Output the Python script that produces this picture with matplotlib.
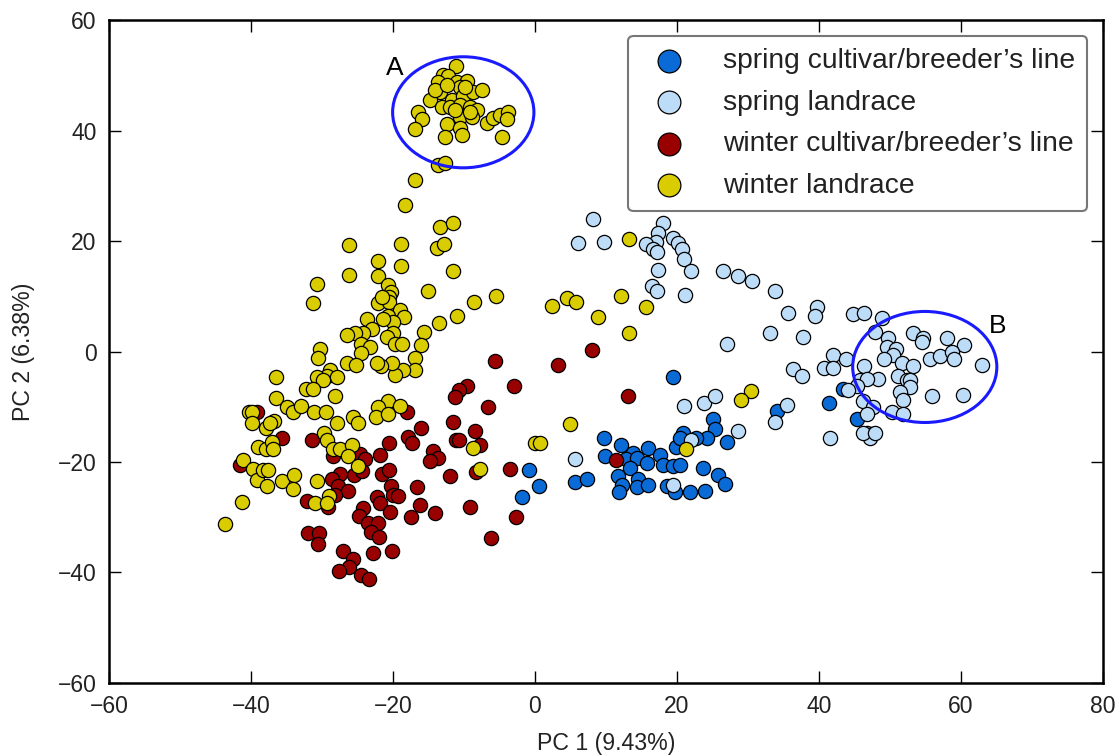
import matplotlib
matplotlib.use("Agg")
import matplotlib.pyplot as plt
from matplotlib.patches import Ellipse

plt.rcParams['font.family'] = ['Liberation Sans', 'DejaVu Sans']

# spring cultivar/breeder's line
sc_x = [19.4, 34.1, 25.1, 25.4, 27.0, 24.2, 20.8, 22.7, 19.9, 20.4, 9.7, 12.1, 13.8, 15.9, 17.6,
        9.9, 12.8, 14.4, 15.8, 13.4, 18.0, 19.4, 20.4, 23.7, 25.8, 26.8, -0.8, 0.6, -1.8, 5.6,
        7.3, 11.7, 12.3, 11.8, 14.5, 14.4, 15.9, 18.6, 19.7, 21.8, 23.9, 41.4, 45.4, 43.4]
sc_y = [-4.7, -10.7, -12.3, -14.1, -16.3, -15.6, -14.8, -15.7, -17.2, -15.6, -15.6, -17.0, -18.3, -17.4, -18.8,
        -19.0, -19.5, -19.2, -20.1, -21.0, -20.6, -20.8, -20.6, -21.0, -22.4, -23.9, -21.4, -24.3, -26.4, -23.7,
        -23.0, -22.6, -24.1, -25.5, -23.0, -24.6, -24.1, -24.4, -25.5, -25.5, -25.3, -9.4, -12.3, -6.7]

# spring landrace
sl_x = [8.2, 6.1, 9.7, 18.0, 17.3, 17.0, 15.6, 16.6, 17.2, 19.4, 20.1, 20.7, 21.0, 22.0, 17.3,
        16.5, 17.2, 21.1, 26.5, 28.6, 30.6, 33.8, 33.1, 27.0, 21.0, 23.8, 25.4, 33.8, 28.6, 22.0,
        5.6, 19.4,
        35.6, 39.7, 39.4, 37.7, 44.8, 46.3, 48.9, 47.9, 49.7, 49.6, 53.2, 54.6, 54.5, 58.0,
        60.4, 50.8, 50.4, 49.2, 55.6, 57.0, 58.7, 59.0, 63.0, 42.0, 43.8, 40.7, 42.0, 36.3,
        37.6, 46.3, 51.7, 53.2, 51.1, 52.4, 52.8, 52.8, 48.3, 45.8, 46.8, 45.4, 44.1, 51.4,
        51.8, 55.9, 60.3, 46.2, 47.6, 46.8, 50.3, 51.8, 35.5, 41.5, 46.8, 47.5, 47.2, 46.2, 47.9]
sl_y = [23.9, 19.7, 19.9, 23.3, 21.5, 19.9, 19.4, 18.5, 18.1, 20.6, 19.7, 18.5, 16.8, 14.5, 14.7,
        11.9, 11.0, 10.3, 14.5, 13.6, 12.7, 11.0, 3.3, 1.3, -9.8, -9.4, -8.1, -12.8, -14.3, -16.1,
        -19.4, -24.1,
        6.9, 8.0, 6.5, 2.7, 6.7, 6.9, 6.0, 3.6, 2.5, 0.9, 3.4, 2.5, 1.8, 2.5,
        1.1, 0.4, -0.7, -1.4, -1.4, -0.9, 0.0, -1.3, -2.4, -0.7, -1.4, -2.9, -2.9, -3.1,
        -4.5, -2.7, -2.0, -2.7, -4.5, -5.2, -5.1, -6.5, -4.9, -5.1, -4.9, -6.3, -6.9, -7.4,
        -8.7, -8.0, -7.8, -8.9, -10.0, -11.4, -11.0, -11.4, -9.6, -15.6, -14.7, -15.0, -15.7, -14.7, -14.8]

# winter cultivar/breeder's line
wc_x = [-5.6, -9.6, -10.7, -11.3, -39.2, -35.6, -18.0, -16.1, -11.5, -6.6, -8.5, -11.1, -10.7, -7.7, -8.3,
        -31.4, -28.5, -24.6, -23.9, -25.5, -24.4, -27.5, -28.6, -27.7, -26.3, -28.2, -32.1, -29.2, -21.8, -20.6,
        -17.9, -17.3, -21.5, -20.6, -14.4, -13.7, -14.8, -12.0, -16.6, -20.3, -20.0, -19.3, -22.3, -21.8, -20.4,
        -16.2, -17.5, -14.1, -24.2, -24.8, -23.5, -22.1, -23.1, -22.0, -9.2, -6.2, -32.0, -30.4, -30.6, -27.0,
        -25.6, -26.2, -27.6, -22.8, -20.1, -24.5, -23.4, -41.5, 8.0, 3.2, -3.0, 13.1, -3.5, 11.4, -2.7]
wc_y = [-1.8, -6.2, -6.9, -8.3, -10.9, -15.6, -10.9, -13.8, -12.7, -10.1, -14.3, -16.1, -16.1, -17.0, -21.9,
        -16.1, -19.0, -18.6, -19.5, -22.3, -21.7, -22.1, -23.0, -24.4, -25.2, -25.9, -27.1, -28.1, -18.8, -16.5,
        -15.4, -16.5, -22.1, -21.5, -18.1, -19.2, -19.9, -22.6, -24.6, -24.4, -25.9, -26.2, -26.4, -27.5, -29.0,
        -27.7, -29.9, -29.3, -28.4, -29.7, -31.0, -31.0, -32.6, -33.5, -28.1, -33.8, -32.8, -32.9, -34.9, -36.2,
        -37.5, -39.0, -39.8, -36.4, -36.2, -40.5, -41.1, -20.6, 0.2, -2.5, -6.2, -8.1, -21.2, -19.7, -29.9]

# winter landrace
wl_x = [-11.1, -13.0, -12.3, -13.7, -11.0, -9.6, -10.6, -13.4, -14.8, -11.7, -10.1, -8.7, -7.5, -13.1, -12.0,
        -10.6, -9.2, -8.2, -16.5, -15.9, -16.9, -12.4, -10.6, -8.9, -10.6, -12.7, -10.3, -6.8, -5.9, -4.9,
        -3.8, -3.9, -4.6, -14.1, -12.4, -9.9, -11.3, -9.2,
        -13.7, -12.7, -16.9, -18.3, -13.4, -11.5, -26.2, -18.9, -13.8, -12.8, -22.1, -18.9, -26.2, -22.1, -11.5,
        -30.7, -31.3, -20.7, -20.3, -20.5, -15.1, -22.1, -20.6, -21.5, -5.5, -8.6, -11.0, -13.5, -19.0, -18.5,
        -20.7, -20.0, -21.4, -23.7, -23.0, -24.2, -25.4, -26.5, -20.0, -20.8, -15.6, -16.1, -24.5, -23.2, -24.5,
        -19.7, -18.7, -16.9, -16.9, -18.6, -19.7, -20.1, -21.7, -22.3, -26.5, -25.2, -30.3, -30.6, -28.9, -29.3,
        -27.9, -30.7, -29.9, -36.5, -32.3, -31.3, -36.5, -28.2, -20.7,
        -34.9, -34.1, -33.0, -31.1, -29.4, -40.3, -39.9, -39.9, -36.8, -37.9, -37.3, -27.9, -25.6, -24.9, -22.1,
        -19.0, -22.4, -20.7, -8.7, -7.7, -29.7, -29.3, -39.0, -37.9, -37.0, -36.9, -28.5, -27.5, -25.8, -26.3,
        -24.9, -29.0, -31.0, -29.3, -41.3, -43.7, -41.1, -39.7, -39.2, -37.7, -38.3, -37.6, -35.6, -33.9, -34.1,
        -30.7,
        13.2, 2.4, 4.5, 5.8, 12.1, 15.6, 8.9, 13.2, 4.9, 0.0, 0.7, 30.4, 29.0, 21.3]
wl_y = [51.6, 50.1, 49.8, 48.7, 48.7, 48.9, 47.8, 46.9, 45.6, 45.6, 46.2, 46.9, 47.4, 44.2, 44.3,
        44.7, 44.2, 43.8, 43.3, 42.0, 40.2, 41.1, 42.5, 42.4, 40.5, 38.9, 39.1, 41.4, 42.3, 42.9,
        43.3, 42.0, 38.9, 47.4, 48.3, 47.8, 43.8, 43.3,
        33.8, 34.2, 31.0, 26.6, 22.6, 23.2, 19.2, 19.4, 18.8, 19.5, 16.3, 15.4, 13.8, 13.6, 14.5,
        12.3, 8.7, 12.1, 10.7, 9.9, 11.0, 8.7, 8.9, 9.8, 10.1, 9.0, 6.5, 5.2, 7.6, 6.3,
        6.5, 5.4, 5.8, 5.8, 4.0, 3.3, 3.4, 2.9, 3.4, 2.7, 3.6, 1.1, 1.4, 0.9, -0.2,
        1.3, 1.3, -1.1, -3.3, -3.3, -4.2, -2.0, -2.7, -2.0, -2.0, -2.5, 0.5, -1.1, -3.3, -4.5,
        -4.7, -4.7, -5.1, -4.7, -6.7, -6.7, -8.5, -8.1, -9.0,
        -10.1, -11.0, -9.8, -11.0, -11.0, -10.9, -11.0, -13.0, -12.5, -13.9, -13.0, -13.0, -11.8, -13.0, -10.0,
        -9.8, -11.8, -11.4, -17.4, -21.2, -14.8, -16.1, -17.2, -17.6, -16.3, -17.6, -17.7, -17.6, -17.0, -19.0,
        -20.8, -26.2, -27.5, -27.5, -27.3, -31.3, -19.7, -21.2, -23.3, -24.3, -21.5, -21.4, -23.5, -22.4, -24.8,
        -23.5,
        20.3, 8.3, 9.6, 8.9, 10.0, 8.1, 6.3, 3.4, -13.2, -16.6, -16.5, -7.2, -8.7, -17.7]

groups = [
    (sc_x, sc_y, '#0a6ad6', 'spring cultivar/breeder\u2019s line'),
    (sl_x, sl_y, '#bddcf7', 'spring landrace'),
    (wc_x, wc_y, '#990000', 'winter cultivar/breeder\u2019s line'),
    (wl_x, wl_y, '#d9cc00', 'winter landrace'),
]

fig = plt.figure(figsize=(11.2, 7.56), dpi=100)
ax = fig.add_axes([0.0973, 0.0966, 0.8875, 0.8769])

for xs, ys, col, lab in groups:
    ax.scatter(xs, ys, s=105, c=col, edgecolors='black', linewidths=0.9, label=lab, zorder=3)

# highlighted clusters
ax.add_patch(Ellipse((-10.1, 43.3), 19.9, 20.1, fill=False, edgecolor='#1a1aff', lw=2.2, zorder=4))
ax.add_patch(Ellipse((54.9, -2.8), 20.3, 20.1, fill=False, edgecolor='#1a1aff', lw=2.2, zorder=4))
ax.text(-19.7, 51.4, 'A', fontsize=19, ha='center', va='center')
ax.text(65.2, 4.6, 'B', fontsize=19, ha='center', va='center')

ax.set_xlim(-60, 80)
ax.set_ylim(-60, 60)
ax.set_xticks(range(-60, 81, 20))
ax.set_yticks(range(-60, 61, 20))
ax.set_xticklabels([f'\u2212{abs(v)}' if v < 0 else str(v) for v in range(-60, 81, 20)])
ax.set_yticklabels([f'\u2212{abs(v)}' if v < 0 else str(v) for v in range(-60, 61, 20)])
ax.tick_params(direction='in', top=True, right=True, length=8.5, width=1, labelsize=16.5, pad=9,
               labelcolor='#222222')
for sp in ax.spines.values():
    sp.set_linewidth(1.8)

ax.set_xlabel('PC 1 (9.43%)', fontsize=16.7, labelpad=10, color='#222222')
ax.set_ylabel('PC 2 (6.38%)', fontsize=16.7, labelpad=16, color='#222222')

leg = ax.legend(loc='upper right', scatterpoints=1, markerscale=1.6, fontsize=20.3,
                frameon=True, fancybox=True, edgecolor='#777777', framealpha=1,
                borderaxespad=0.55, handletextpad=0.9, labelspacing=0.55, borderpad=0.45)
leg.get_frame().set_linewidth(1.5)
for t in leg.get_texts():
    t.set_color('#222222')

fig.savefig('out.png', dpi=100)
